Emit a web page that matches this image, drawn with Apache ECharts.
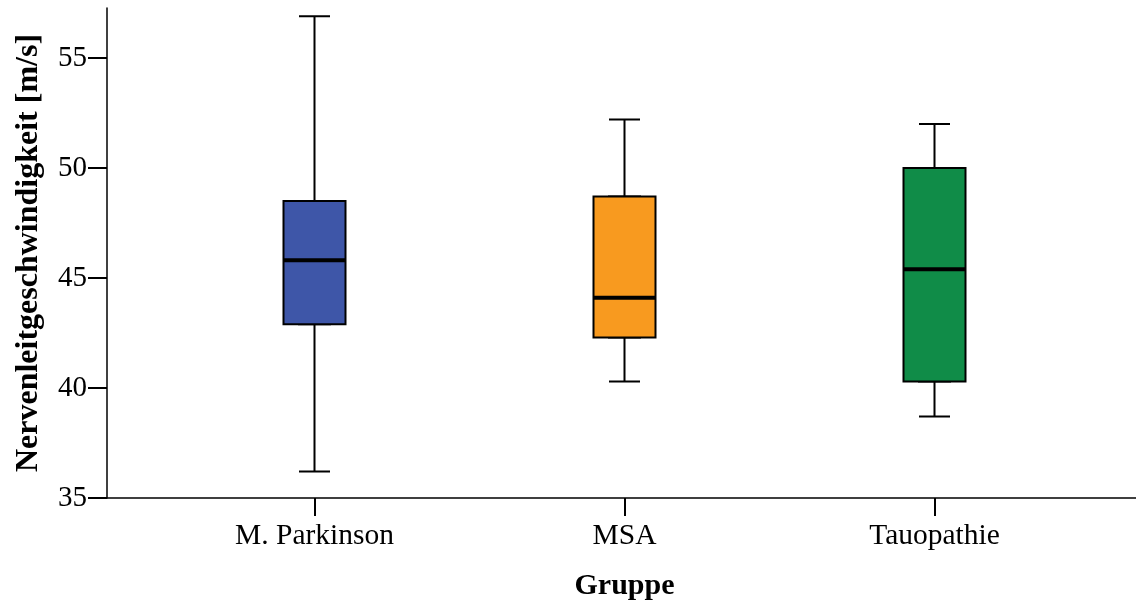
<!DOCTYPE html>
<html><head><meta charset="utf-8">
<script src="https://cdn.jsdelivr.net/npm/echarts@6/dist/echarts.min.js"></script>
<style>html,body{margin:0;padding:0;background:#fff}#c{width:1136px;height:607px}</style>
</head><body><div id="c"></div>
<script>
const categories = ['M. Parkinson', 'MSA', 'Tauopathie'];
const whiskerLow = [36.2, 40.3, 38.7];
const q1 = [42.9, 42.3, 40.3];
const median = [45.8, 44.1, 45.4];
const q3 = [48.5, 48.7, 50.0];
const whiskerHigh = [56.9, 52.2, 52.0];
const boxColors = ['#3E56A8', '#F89A1F', '#108C48'];
const yTicks = [35, 40, 45, 50, 55];
const yMin = 35, yMax = 57.27;

const FONT = "'Liberation Serif', 'Times New Roman', serif";
const chart = echarts.init(document.getElementById('c'), null, {renderer: 'canvas'});

const hiddenCat = (i) => ({gridIndex: 1, type: 'category', data: categories, show: false, boundaryGap: true});

chart.setOption({
  animation: false,
  backgroundColor: '#fff',
  grid: [
    {left: 107, right: 0, top: 8, height: 490, outerBoundsMode: 'none', containLabel: false},
    {left: 159.5, right: 46.5, top: 8, height: 490, outerBoundsMode: 'none', containLabel: false}
  ],
  xAxis: [
    {gridIndex: 0, type: 'value', min: 0, max: 1,
     axisLine: {show: true, onZero: false, lineStyle: {color: '#000', width: 1.5}},
     axisTick: {show: false}, axisLabel: {show: false}, splitLine: {show: false}},
    {gridIndex: 1, type: 'category', data: categories, boundaryGap: true,
     axisLine: {show: false},
     axisTick: {show: true, alignWithLabel: true, interval: 0, length: 18, lineStyle: {color: '#000', width: 2}},
     axisLabel: {interval: 0, fontSize: 29.5, fontFamily: FONT, color: '#000', margin: 23},
     splitLine: {show: false},
     name: 'Gruppe', nameLocation: 'middle', nameGap: 73, nameMoveOverlap: false,
     nameTextStyle: {fontSize: 30, fontWeight: 'bold', fontFamily: FONT, color: '#000'}},
    hiddenCat(2),
    hiddenCat(3)
  ],
  yAxis: [
    {gridIndex: 0, type: 'value', min: yMin, max: yMax,
     axisLine: {show: true, onZero: false, lineStyle: {color: '#000', width: 1.5}},
     axisTick: {show: true, length: 19, customValues: yTicks, lineStyle: {color: '#000', width: 2}},
     axisLabel: {customValues: yTicks, fontSize: 29, fontFamily: FONT, color: '#000', margin: 20},
     splitLine: {show: false},
     name: 'Nervenleitgeschwindigkeit [m/s]', nameLocation: 'middle', nameRotate: 90, nameGap: 62,
     nameMoveOverlap: false,
     nameTextStyle: {fontSize: 32, fontWeight: 'bold', fontFamily: FONT, color: '#000'}},
    {gridIndex: 1, type: 'value', min: yMin, max: yMax, show: false, splitLine: {show: false}}
  ],
  series: [
    {type: 'boxplot', name: 'whiskers', xAxisIndex: 1, yAxisIndex: 1, silent: true,
     boxWidth: [31, 31],
     itemStyle: {color: '#fff', borderColor: '#000', borderWidth: 2},
     emphasis: {disabled: true},
     data: categories.map((c, i) => [whiskerLow[i], q1[i], median[i], q3[i], whiskerHigh[i]])},
    {type: 'boxplot', name: 'boxes', xAxisIndex: 2, yAxisIndex: 1, silent: true,
     boxWidth: [62, 62],
     emphasis: {disabled: true},
     data: categories.map((c, i) => ({
       value: [q1[i], q1[i], median[i], q3[i], q3[i]],
       itemStyle: {color: boxColors[i], borderColor: '#000', borderWidth: 2}
     }))},
    {type: 'boxplot', name: 'median', xAxisIndex: 3, yAxisIndex: 1, silent: true,
     boxWidth: [62, 62],
     itemStyle: {color: '#000', borderColor: '#000', borderWidth: 4},
     emphasis: {disabled: true},
     data: categories.map((c, i) => [median[i], median[i], median[i], median[i], median[i]])}
  ]
});
</script>
</body></html>
